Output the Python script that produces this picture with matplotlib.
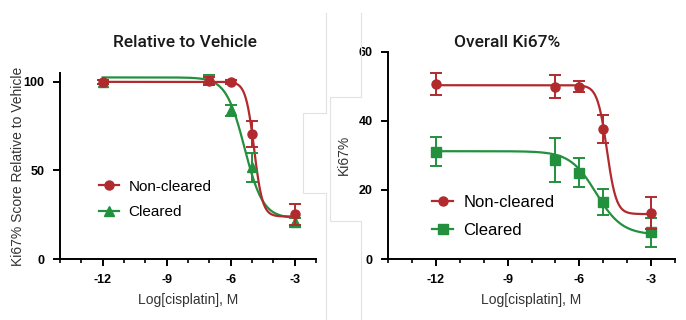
"""Dose-response curves for Ki67 after cisplatin treatment, two panels."""

import matplotlib
matplotlib.use("Agg")
import matplotlib.pyplot as plt
from matplotlib.lines import Line2D
import numpy as np

plt.rcParams['font.family'] = ['Liberation Sans', 'DejaVu Sans']
plt.rcParams['axes.unicode_minus'] = False

# log dose values
log_dose = [-12, -7, -6, -5, -3]

# panel 1: relative to vehicle
rel_non_mean = [100, 100.4, 100, 70.6, 25.2]
rel_non_err = [1.0, 2.4, 1.0, 7.5, 6.0]
rel_clr_mean = [100, 101.5, 84, 51.7, 20.8]
rel_clr_err = [1.0, 2.5, 3.0, 8.0, 2.5]

# panel 2: overall Ki67 %
all_non_mean = [50.6, 49.9, 49.9, 37.7, 13.3]
all_non_err = [3.1, 3.3, 1.6, 4.0, 4.7]
all_clr_mean = [31.1, 28.7, 25.0, 16.5, 7.8]
all_clr_err = [4.2, 6.3, 4.2, 3.8, 4.2]

# 4-parameter logistic fit parameters: top, bottom, logIC50, hill
rel_non_fit = [100.0, 24.0, -4.9, 2.2]
rel_clr_fit = [102.5, 23.0, -5.35, 1.0]
all_non_fit = [50.3, 13.0, -4.85, 2.2]
all_clr_fit = [31.2, 7.0, -5.3, 0.8]

red = '#B02A2E'
green = '#23903E'


def four_pl(x, params):
    top, bottom, ic50, hill = params
    return bottom + (top - bottom) / (1 + 10 ** ((x - ic50) * hill))


fig = plt.figure(figsize=(6.86, 3.2), dpi=100)

# faint outlines of the pasted panels
for xs, ys in [([326, 326, 303, 303, 326, 326], [13, 113, 113, 193, 193, 320]),
               ([361, 361, 330, 330, 361, 361], [13, 97, 97, 221, 221, 320])]:
    fig.add_artist(Line2D([x / 686 for x in xs], [1 - y / 320 for y in ys],
                          color='#e2e2e2', lw=0.8, transform=fig.transFigure))

ax1 = fig.add_axes([60 / 686, 61 / 320, 256 / 686, 186 / 320])
ax2 = fig.add_axes([388 / 686, 61 / 320, 287 / 686, 207.3 / 320])

xfit = np.linspace(-12, -3, 300)

panels = [
    (ax1, rel_non_mean, rel_non_err, rel_clr_mean, rel_clr_err, rel_non_fit, rel_clr_fit, '^'),
    (ax2, all_non_mean, all_non_err, all_clr_mean, all_clr_err, all_non_fit, all_clr_fit, 's'),
]

for ax, nm, ne, cm, ce, nfit, cfit, cmark in panels:
    ax.plot(xfit, four_pl(xfit, cfit), color=green, lw=1.6, zorder=2)
    ax.plot(xfit, four_pl(xfit, nfit), color=red, lw=1.6, zorder=3)
    ax.errorbar(log_dose, cm, yerr=ce, fmt=cmark, color=green, ms=6.5,
                capsize=4, elinewidth=1.4, capthick=1.4, zorder=4)
    ax.errorbar(log_dose, nm, yerr=ne, fmt='o', color=red, ms=6.5,
                capsize=4, elinewidth=1.4, capthick=1.4, zorder=5)

    ax.set_xlim(-14, -2)
    ax.set_xticks([-12, -9, -6, -3])
    ax.set_xticks(np.arange(-14, -1, 1), minor=True)
    for s in ['top', 'right']:
        ax.spines[s].set_visible(False)
    for s in ['left', 'bottom']:
        ax.spines[s].set_linewidth(1.4)
    ax.tick_params(which='major', direction='out', length=5, width=1.4,
                   labelsize=9, pad=6)
    ax.tick_params(which='minor', direction='out', length=3, width=1.2)
    ax.set_xlabel('Log[cisplatin], M', fontsize=10, color='#333333', labelpad=5)

ax1.set_ylim(0, 105)
ax1.set_yticks([0, 50, 100])
ax1.set_ylabel('Ki67% Score Relative to Vehicle', fontsize=10, color='#333333')
ax1.yaxis.set_label_coords(-0.137, 0.5)
ax1.text(0.49, 1.0 + 30 / 186, 'Relative to Vehicle', transform=ax1.transAxes,
         ha='center', va='center', fontsize=12.5, color='#1a1a1a',
         family=['Roboto', 'DejaVu Sans'], fontweight='medium')

ax2.set_ylim(0, 60)
ax2.set_yticks([0, 20, 40, 60])
ax2.set_ylabel('Ki67%', fontsize=10, color='#333333')
ax2.yaxis.set_label_coords(-0.129, 0.5)
ax2.text(0.415, 1.0 + 9 / 207.3, 'Overall Ki67%', transform=ax2.transAxes,
         ha='center', va='center', fontsize=12.5, color='#1a1a1a',
         family=['Roboto', 'DejaVu Sans'], fontweight='medium')

for ax in (ax1, ax2):
    for lab in ax.get_xticklabels() + ax.get_yticklabels():
        lab.set_fontweight('bold')

h1 = [Line2D([], [], color=red, marker='o', ms=6.5, lw=1.6),
      Line2D([], [], color=green, marker='^', ms=6.5, lw=1.6)]
ax1.legend(h1, ['Non-cleared', 'Cleared'], loc='upper left',
           bbox_to_anchor=(0.1, 0.5), frameon=False, fontsize=11,
           handlelength=1.3, handletextpad=0.6, labelspacing=0.75)

h2 = [Line2D([], [], color=red, marker='o', ms=6.5, lw=1.6),
      Line2D([], [], color=green, marker='s', ms=6.5, lw=1.6)]
ax2.legend(h2, ['Non-cleared', 'Cleared'], loc='upper left',
           bbox_to_anchor=(0.1, 0.38), frameon=False, fontsize=12,
           handlelength=1.3, handletextpad=0.6, labelspacing=0.75)

fig.savefig('out.png', dpi=100)
